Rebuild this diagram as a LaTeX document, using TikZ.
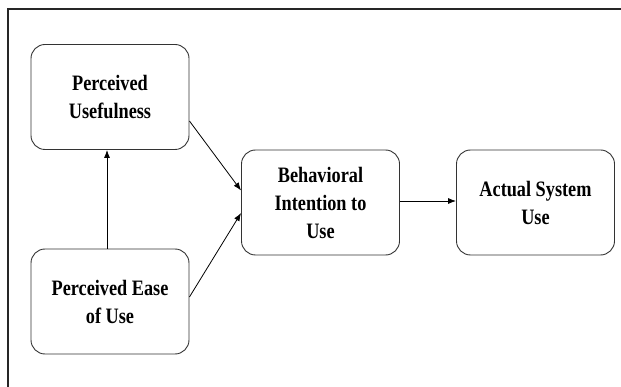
\documentclass[tikz,border=0pt]{standalone}
\usepackage{fontspec}
\newfontfamily\labelfont{Liberation Serif}[FakeStretch=0.83]
\usetikzlibrary{arrows.meta}
\tikzset{
  construct/.style={draw=black!80, line width=0.9pt, rounded corners=14pt,
    minimum width=158pt, minimum height=105pt, inner sep=0pt,
    align=center, font=\labelfont\bfseries\fontsize{22}{28}\selectfont, text=black},
  link/.style={draw=black, line width=0.8pt, -{Latex[length=8pt,width=6pt]}},
  frameline/.style={draw=black!85, line width=1.3pt}
}
\begin{document}
\begin{tikzpicture}[x=1pt, y=-1pt]
  \useasboundingbox (0,0) rectangle (621,387);
  % outer frame (top and left edges)
  \draw[frameline] (621,9) -- (8,9) -- (8,387);

  % constructs
  \node[construct] (pu)   at (110,97)    {Perceived\\Usefulness};
  \node[construct] (peou) at (110,301.5) {Perceived Ease\\of Use};
  \node[construct] (bi)   at (320.5,202.5) {Behavioral\\Intention to\\Use};
  \node[construct] (asu)  at (535.5,202.5) {Actual System\\Use};

  % relations
  \draw[link] ([xshift=-3pt]peou.north) -- ([xshift=-3pt]pu.south);
  \draw[link] ([yshift=-24pt]pu.east) -- ([yshift=12pt]bi.west);
  \draw[link] ([yshift=4.5pt]peou.east) -- ([yshift=-10.5pt]bi.west);
  \draw[link] ([yshift=1.5pt]bi.east) -- ([yshift=1.5pt]asu.west);
\end{tikzpicture}
\end{document}
